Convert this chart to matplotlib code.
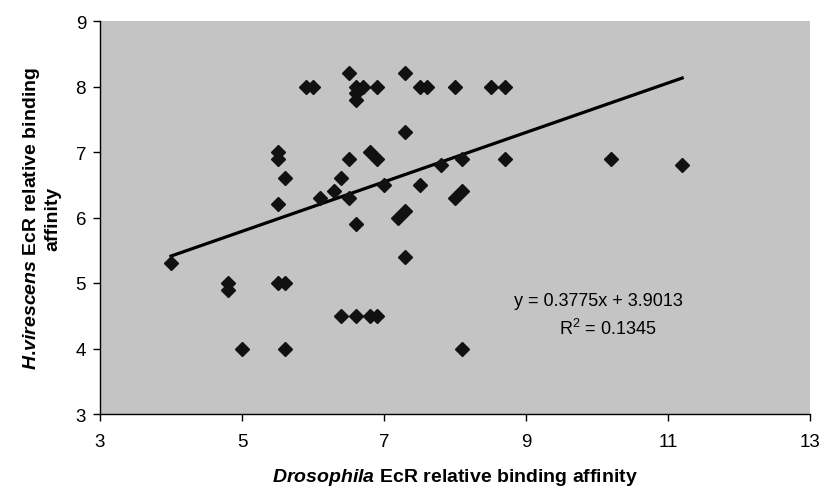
import matplotlib
matplotlib.use('Agg')
import matplotlib.pyplot as plt
import numpy as np

# Drosophila EcR (x) vs H. virescens EcR (y) relative binding affinity
drosophila = [5.9, 6.0, 6.5, 6.6, 6.7, 6.6, 6.6, 6.9, 7.3, 7.5, 7.6, 8.0, 8.5, 8.7,
              7.3, 5.5, 5.5, 5.6, 5.5, 6.5, 6.4, 6.3, 6.1, 6.5, 6.6, 6.8, 6.9,
              7.0, 7.5, 7.8, 8.1, 8.7, 8.0, 8.1, 7.2, 7.3, 7.3, 6.4, 6.6, 6.8,
              6.9, 8.1, 4.0, 4.8, 4.8, 5.5, 5.6, 5.0, 5.6, 10.2, 11.2]
virescens = [8.0, 8.0, 8.2, 8.0, 8.0, 7.9, 7.8, 8.0, 8.2, 8.0, 8.0, 8.0, 8.0, 8.0,
             7.3, 7.0, 6.9, 6.6, 6.2, 6.9, 6.6, 6.4, 6.3, 6.3, 5.9, 7.0, 6.9,
             6.5, 6.5, 6.8, 6.9, 6.9, 6.3, 6.4, 6.0, 6.1, 5.4, 4.5, 4.5, 4.5,
             4.5, 4.0, 5.3, 5.0, 4.9, 5.0, 5.0, 4.0, 4.0, 6.9, 6.8]

# linear trend line as printed on the chart
slope = 0.3775
intercept = 3.9013
r_squared = 0.1345

x_ticks = [3, 5, 7, 9, 11, 13]
y_ticks = [3, 4, 5, 6, 7, 8, 9]

plt.rcParams['font.family'] = ['Liberation Sans', 'DejaVu Sans']
# mathtext in the same face; \mathit gives the bold italic species names
plt.rcParams['mathtext.fontset'] = 'custom'
plt.rcParams['mathtext.rm'] = 'Liberation Sans'
plt.rcParams['mathtext.it'] = 'Liberation Sans:italic:bold'
plt.rcParams['mathtext.bf'] = 'Liberation Sans:bold'

fig = plt.figure(figsize=(8.22, 4.89), dpi=100)
ax = fig.add_axes([100 / 822, 74 / 489, 710 / 822, 393 / 489])
ax.set_facecolor('#c4c4c4')

ax.plot(drosophila, virescens, linestyle='none', marker='D', markersize=7,
        color='#111111', zorder=3)

# trend line over the data range
xs = np.array([min(drosophila), max(drosophila)])
ax.plot(xs, slope * xs + intercept, color='black', linewidth=2.3, zorder=2)

ax.text(10.02, 4.73, f'y = {slope}x + {intercept}', ha='center', va='center', fontsize=13)
ax.text(10.15, 4.31, f'R$^2$ = {r_squared}', ha='center', va='center', fontsize=13)

ax.set_xlim(3, 13)
ax.set_ylim(3, 9)
ax.set_xticks(x_ticks)
ax.set_yticks(y_ticks)
ax.tick_params(direction='out', length=5, width=1, labelsize=13.5)
ax.tick_params(axis='x', pad=9)
ax.tick_params(axis='y', pad=5)

for side in ['top', 'right']:
    ax.spines[side].set_visible(False)
for side in ['left', 'bottom']:
    ax.spines[side].set_linewidth(1)

ax.set_xlabel(r'$\mathit{Drosophila}$ EcR relative binding affinity',
              fontsize=14, fontweight='bold', labelpad=11)
ax.set_ylabel(r'$\mathit{H}$.$\mathit{virescens}$ EcR relative binding' + '\naffinity',
              fontsize=14, fontweight='bold', labelpad=10)

plt.savefig('out.png', dpi=100)
